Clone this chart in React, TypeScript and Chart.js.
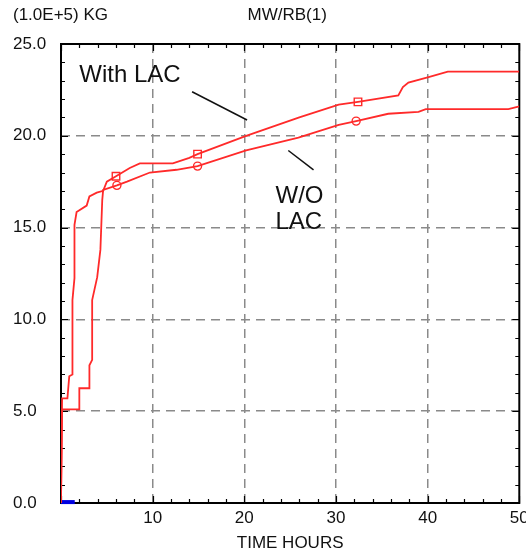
import { useEffect, useRef } from 'react';
import { Chart, registerables } from 'chart.js';

Chart.register(...registerables);

const FONT = '"Liberation Sans", Arial, sans-serif';
const RED = '#ff2a2a';

// axis ranges / steps
const xRange = [0, 50];
const yRange = [0, 25];
const xMajorStep = 10;
const xMinorStep = 2;
const yMajorStep = 5;
const yMinorStep = 1;

// header texts
const yUnitLabel = '(1.0E+5) KG';
const chartTitle = 'MW/RB(1)';
const xAxisTitle = 'TIME HOURS';

// series "With LAC"
const withLacX = [0, 0.12, 0.7, 0.9, 1.25, 1.25, 1.47, 1.47, 1.7, 2.8, 3.1, 3.9, 4.6, 5.0, 6.0, 7.5, 8.6, 12.2, 14.0, 14.9, 20.2, 26.0, 30.3, 32.4, 36.8, 37.3, 37.9, 40.1, 42.2, 50];
const withLacY = [0, 5.7, 5.7, 6.9, 7.0, 11.05, 12.25, 15.15, 15.85, 16.2, 16.7, 16.9, 17.0, 17.5, 17.8, 18.25, 18.5, 18.5, 18.8, 19.0, 20.0, 21.0, 21.7, 21.85, 22.2, 22.65, 22.9, 23.2, 23.5, 23.5];

// series "W/O LAC"
const woLacX = [0, 0.12, 2.0, 2.0, 3.1, 3.1, 3.4, 3.4, 3.95, 4.3, 4.5, 4.6, 6.1, 7.2, 9.7, 12.6, 14.9, 20.2, 25.9, 30.3, 32.2, 35.7, 39.0, 39.8, 48.8, 50];
const woLacY = [0, 5.1, 5.1, 6.25, 6.25, 7.5, 7.8, 11.05, 12.3, 13.8, 16.5, 17.05, 17.3, 17.5, 18.0, 18.15, 18.35, 19.2, 19.9, 20.6, 20.8, 21.2, 21.3, 21.45, 21.45, 21.6];

// markers
const withLacMarkX = [6.0, 14.9, 32.4];
const withLacMarkY = [17.8, 19.0, 21.85];
const woLacMarkX = [6.1, 14.9, 32.2];
const woLacMarkY = [17.3, 18.35, 20.8];

// small blue trace at origin
const baseX = [0, 1.5];
const baseY = [0.05, 0.05];

// annotations
const annotationTexts = ['With LAC', 'W/O', 'LAC'];
const annotationX = [2.0, 23.4, 23.4];
const annotationY = [23.3, 16.7, 15.3];
const leaderWithX = [14.3, 20.3];
const leaderWithY = [22.4, 20.86];
const leaderWoX = [24.8, 27.55];
const leaderWoY = [19.2, 18.14];

const pts = (xs: number[], ys: number[]) => xs.map((x, i) => ({ x, y: ys[i] }));

const framePlugin = {
  id: 'frameAndTexts',
  beforeDatasetsDraw(chart: any) {
    const { ctx, chartArea, scales } = chart;
    const { left, right, top, bottom } = chartArea;
    const xs = scales.x;
    const ys = scales.y;
    ctx.save();
    ctx.strokeStyle = '#000';
    ctx.lineWidth = 2;
    ctx.strokeRect(left, top, right - left, bottom - top);
    ctx.lineWidth = 1.2;
    ctx.beginPath();
    for (let v = xRange[0]; v <= xRange[1]; v += xMinorStep) {
      const px = Math.round(xs.getPixelForValue(v)) + 0.5;
      const len = v % xMajorStep === 0 ? 7 : 4;
      ctx.moveTo(px, bottom);
      ctx.lineTo(px, bottom - len);
      ctx.moveTo(px, top);
      ctx.lineTo(px, top + len);
    }
    for (let v = yRange[0]; v <= yRange[1]; v += yMinorStep) {
      const py = Math.round(ys.getPixelForValue(v)) + 0.5;
      const len = v % yMajorStep === 0 ? 7 : 4;
      ctx.moveTo(left, py);
      ctx.lineTo(left + len, py);
      ctx.moveTo(right, py);
      ctx.lineTo(right - len, py);
    }
    ctx.stroke();
    ctx.restore();
  },
  afterDraw(chart: any) {
    const { ctx, chartArea, scales } = chart;
    const xs = scales.x;
    const ys = scales.y;
    ctx.save();
    ctx.fillStyle = '#111';
    ctx.textBaseline = 'middle';
    ctx.font = `17px ${FONT}`;
    ctx.textAlign = 'left';
    ctx.fillText(yUnitLabel, 13, 15);
    ctx.textAlign = 'center';
    ctx.fillText(chartTitle, (chartArea.left + chartArea.right) / 2 - 3, 15);
    ctx.font = `24px ${FONT}`;
    ctx.textAlign = 'left';
    annotationTexts.forEach((t, i) => {
      ctx.fillText(t, xs.getPixelForValue(annotationX[i]), ys.getPixelForValue(annotationY[i]));
    });
    ctx.restore();
  },
};

export default function App() {
  const ref = useRef<HTMLCanvasElement | null>(null);
  useEffect(() => {
    if (!ref.current) return;
    const chart = new Chart(ref.current, {
      type: 'line',
      data: {
        datasets: [
          { label: 'With LAC', data: pts(withLacX, withLacY), borderColor: RED, borderWidth: 1.8, pointRadius: 0, tension: 0, fill: false },
          { label: 'W/O LAC', data: pts(woLacX, woLacY), borderColor: RED, borderWidth: 1.8, pointRadius: 0, tension: 0, fill: false },
          { label: 'With LAC markers', data: pts(withLacMarkX, withLacMarkY), showLine: false, pointStyle: 'rect', pointRadius: 5.3, pointBorderColor: RED, pointBackgroundColor: 'rgba(0,0,0,0)', pointBorderWidth: 1.4 },
          { label: 'W/O LAC markers', data: pts(woLacMarkX, woLacMarkY), showLine: false, pointStyle: 'circle', pointRadius: 4, pointBorderColor: RED, pointBackgroundColor: 'rgba(0,0,0,0)', pointBorderWidth: 1.4 },
          { label: 'leader1', data: pts(leaderWithX, leaderWithY), borderColor: '#111', borderWidth: 1.5, pointRadius: 0 },
          { label: 'leader2', data: pts(leaderWoX, leaderWoY), borderColor: '#111', borderWidth: 1.5, pointRadius: 0 },
          { label: 'base', data: pts(baseX, baseY), borderColor: '#0000e0', borderWidth: 4, pointRadius: 0, clip: false },
        ] as any,
      },
      options: {
        animation: false,
        responsive: false,
        devicePixelRatio: 1,
        layout: { padding: { left: 13, top: 44, right: 5, bottom: 0 } },
        plugins: { legend: { display: false }, tooltip: { enabled: false }, title: { display: false } },
        scales: {
          x: {
            type: 'linear',
            min: xRange[0],
            max: xRange[1],
            afterFit: (s: any) => { s.height = 56; s.paddingLeft = 0; s.paddingRight = 0; },
            ticks: {
              stepSize: xMajorStep,
              autoSkip: false,
              maxRotation: 0,
              padding: 5,
              color: '#111',
              font: { family: FONT, size: 17 },
              callback: (v: any) => (v === 0 ? '' : String(v)),
            },
            grid: {
              drawTicks: false,
              lineWidth: 1.5,
              color: (c: any) => (c.tick && (c.tick.value === xRange[0] || c.tick.value === xRange[1]) ? 'rgba(0,0,0,0)' : '#8a8a8a'),
            },
            border: { display: false, dash: [9, 6] },
            title: { display: true, text: xAxisTitle, color: '#111', font: { family: FONT, size: 17 }, padding: { top: 0, bottom: 5 } },
          },
          y: {
            type: 'linear',
            min: yRange[0],
            max: yRange[1],
            afterFit: (s: any) => { s.width = 48; s.paddingTop = 0; s.paddingBottom = 0; },
            ticks: {
              stepSize: yMajorStep,
              crossAlign: 'far',
              padding: 6,
              color: '#111',
              font: { family: FONT, size: 17 },
              callback: (v: any) => Number(v).toFixed(1),
            },
            grid: {
              drawTicks: false,
              lineWidth: 1.5,
              color: (c: any) => (c.tick && (c.tick.value === yRange[0] || c.tick.value === yRange[1]) ? 'rgba(0,0,0,0)' : '#8a8a8a'),
            },
            border: { display: false, dash: [9, 6] },
          },
        },
      },
      plugins: [framePlugin],
    } as any);
    return () => chart.destroy();
  }, []);
  return (
    <div style={{ position: 'absolute', left: 0, top: 0, width: 526, height: 559, background: '#fff' }}>
      <canvas ref={ref} width={526} height={559} style={{ display: 'block' }} />
    </div>
  );
}
